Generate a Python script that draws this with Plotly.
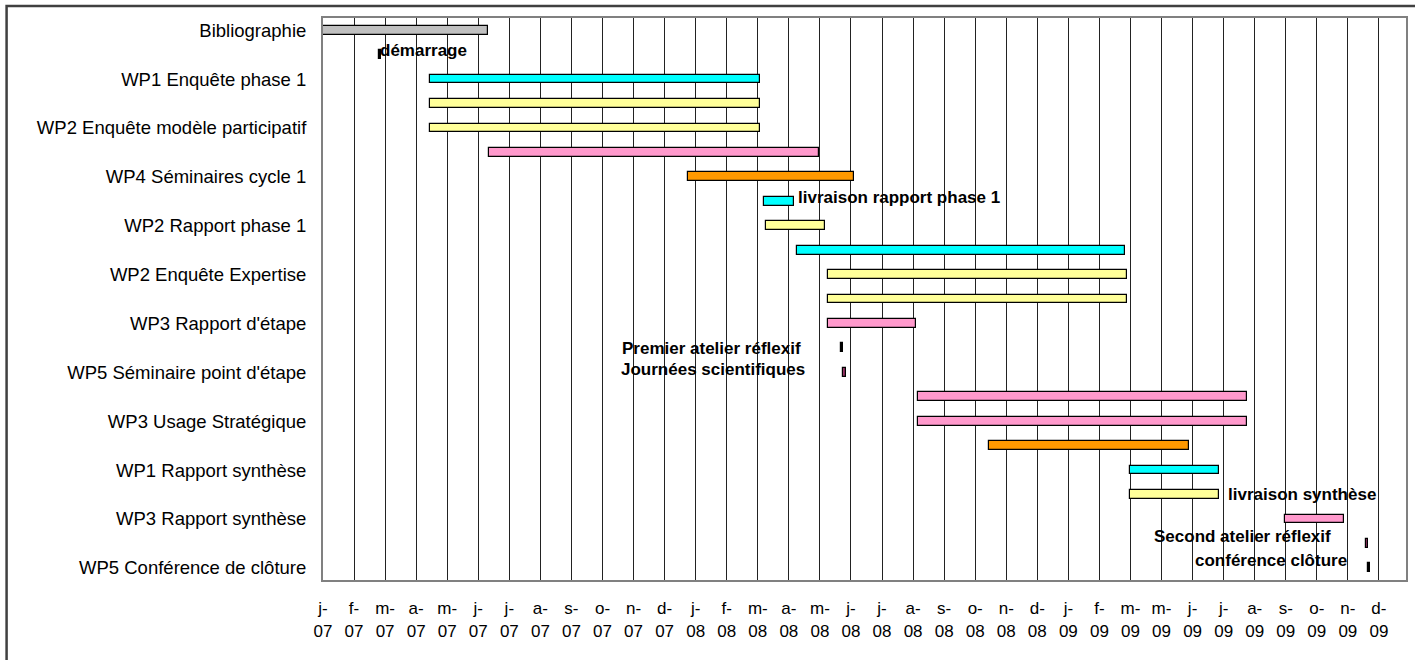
import plotly.graph_objects as go
import pandas as pd

# ---- data -------------------------------------------------------------
Y_LABELS = [
    "Bibliographie",
    "WP1 Enquête phase 1",
    "WP2 Enquête modèle participatif",
    "WP4 Séminaires cycle 1",
    "WP2 Rapport phase 1",
    "WP2 Enquête Expertise",
    "WP3 Rapport d'étape",
    "WP5 Séminaire point d'étape",
    "WP3 Usage Stratégique",
    "WP1 Rapport synthèse",
    "WP3 Rapport synthèse",
    "WP5 Conférence de clôture",
]

START = [
    "2007-01-09", "2007-03-06", "2007-04-26", "2007-04-26", "2007-04-26",
    "2007-06-25", "2008-01-11", "2008-03-27", "2008-03-29", "2008-04-29",
    "2008-05-30", "2008-05-30", "2008-05-30", "2008-06-12", "2008-06-14",
    "2008-08-29", "2008-08-29", "2008-11-08", "2009-03-30", "2009-03-30",
    "2009-09-01", "2009-11-22", "2009-11-24",
]
END = [
    "2007-06-24", "2007-03-08", "2008-03-23", "2008-03-23", "2008-03-23",
    "2008-05-21", "2008-06-25", "2008-04-26", "2008-05-27", "2009-03-25",
    "2009-03-27", "2009-03-27", "2008-08-27", "2008-06-14", "2008-06-17",
    "2009-07-25", "2009-07-25", "2009-05-28", "2009-06-27", "2009-06-27",
    "2009-10-31", "2009-11-24", "2009-11-26",
]
BAR_COLORS = [
    "#C0C0C0", "#000000", "#00FFFF", "#FFFF99", "#FFFF99",
    "#FF99CC", "#FF9900", "#00FFFF", "#FFFF99", "#00FFFF",
    "#FFFF99", "#FFFF99", "#FF99CC", "#000000", "#993366",
    "#FF99CC", "#FF99CC", "#FF9900", "#00FFFF", "#FFFF99",
    "#FF99CC", "#993366", "#000000",
]
BAR_LABELS = {
    1: "démarrage",
    7: "livraison rapport phase 1",
    13: "Premier atelier réflexif",
    14: "Journées scientifiques",
    19: "livraison synthèse",
    21: "Second atelier réflexif",
    22: "conférence clôture",
}
TICK_LABELS = [
    "j-07", "f-07", "m-07", "a-07", "m-07", "j-07", "j-07", "a-07", "s-07", "o-07", "n-07", "d-07",
    "j-08", "f-08", "m-08", "a-08", "m-08", "j-08", "j-08", "a-08", "s-08", "o-08", "n-08", "d-08",
    "j-09", "f-09", "m-09", "m-09", "j-09", "j-09", "a-09", "s-09", "o-09", "n-09", "d-09",
]

# ---- style ------------------------------------------------------------
AXIS_START = pd.Timestamp("2007-01-09")
AXIS_END = pd.Timestamp("2010-01-01")
TICK_STEP = pd.Timedelta(days=31.2)
# (anchor at 'start'/'end', xanchor, xshift, yshift)
LABEL_STYLE = {
    1: ("start", "left", -1, 4),
    7: ("end", "left", 2, 4),
    13: ("start", "right", -38, -1),
    14: ("start", "right", -36, 3),
    19: ("end", "left", 7, 0),
    21: ("start", "right", -33, 7),
    22: ("start", "right", -19, 7),
}

start = pd.to_datetime(START)
end = pd.to_datetime(END)
dur_ms = [(e - s).total_seconds() * 1000 for s, e in zip(start, end)]
rows = list(range(len(START)))

fig = go.Figure()
fig.add_trace(go.Bar(
    orientation="h",
    y=rows,
    base=[s.strftime("%Y-%m-%d") for s in start],
    x=dur_ms,
    width=0.36,
    marker=dict(color=BAR_COLORS, line=dict(color="#000000", width=1.2)),
    hoverinfo="skip",
    showlegend=False,
))

for r, txt in BAR_LABELS.items():
    side, xa, xs, ys = LABEL_STYLE[r]
    xpos = start[r] if side == "start" else end[r]
    fig.add_annotation(
        x=xpos.strftime("%Y-%m-%d"), y=r, text=txt, showarrow=False,
        xanchor=xa, yanchor="middle", xshift=xs, yshift=ys,
        font=dict(family="Liberation Sans, Arial, sans-serif", size=17, color="#000000", weight="bold"),
    )

tickvals = [(AXIS_START + i * TICK_STEP).strftime("%Y-%m-%d %H:%M:%S") for i in range(len(TICK_LABELS))]
ticktext = [t.replace("-", "-<br>") for t in TICK_LABELS]

W, H = 1415, 660
ML, MR, MT, MB = 323, 7, 18, 80
pw, ph = W - ML - MR, H - MT - MB

fig.update_layout(
    width=W, height=H,
    margin=dict(l=ML, r=MR, t=MT, b=MB, pad=0),
    paper_bgcolor="white", plot_bgcolor="white",
    font=dict(family="Liberation Sans, Arial, sans-serif", color="#000000"),
    bargap=0,
    xaxis=dict(
        type="date",
        range=[AXIS_START.strftime("%Y-%m-%d"), AXIS_END.strftime("%Y-%m-%d")],
        tickmode="array", tickvals=tickvals, ticktext=ticktext,
        showgrid=True, gridcolor="#222222", gridwidth=1,
        showline=True, linecolor="#808080", linewidth=2, mirror=True,
        ticks="", ticklabelstandoff=12,
        tickfont=dict(size=17),
        zeroline=False,
    ),
    yaxis=dict(
        range=[len(START) - 0.5, -0.5],
        tickmode="array", tickvals=list(range(0, len(START), 2)), ticktext=Y_LABELS,
        showgrid=False, zeroline=False,
        showline=True, linecolor="#808080", linewidth=2, mirror=True,
        ticks="", ticklabelstandoff=11,
        tickfont=dict(size=18.5),
    ),
    shapes=[dict(
        type="rect", xref="paper", yref="paper",
        x0=(6 - ML) / pw, x1=(W + 20 - ML) / pw,
        y0=(H - MB - (H + 20)) / ph, y1=(H - MB - 6) / ph,
        line=dict(color="#404040", width=2.5), fillcolor="rgba(0,0,0,0)", layer="below",
    )],
)

fig.write_html("out.html", config={"displayModeBar": False},
               post_script="document.body.style.margin='0';")
